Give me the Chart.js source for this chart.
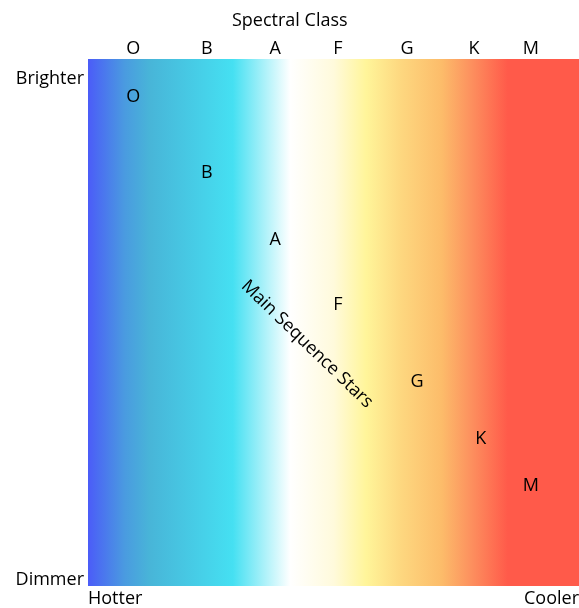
<!DOCTYPE html>
<html>
<head>
<meta charset="utf-8">
<script src="https://cdn.jsdelivr.net/npm/chart.js@4/dist/chart.umd.min.js"></script>
<style>
  html, body { margin: 0; padding: 0; background: #fff; overflow: hidden; }
  #wrap { width: 579px; height: 608px; }
</style>
</head>
<body>
<div id="wrap"><canvas id="hrCanvas"></canvas></div>
<script>
// Spectral classes along the top axis (hot -> cool)
const spectralClasses = ['O', 'B', 'A', 'F', 'G', 'K', 'M'];
const classTickX = [9.2, 24.2, 38.1, 50.9, 65.0, 78.6, 90.2];

// Main sequence stars (x = temperature index, y = brightness index)
const starX = [9.2, 24.2, 38.1, 50.9, 67.0, 80.0, 90.2];
const starY = [93.2, 78.7, 66.0, 53.7, 39.1, 28.3, 19.4];

// Side and bottom axis labels
const brightnessTicks = [96.2, 1.1];
const brightnessLabels = ['Brighter', 'Dimmer'];
const temperatureTicks = [0, 100];
const temperatureLabels = ['Hotter', 'Cooler'];

// Top axis title sits left of the plot centre, over the class "A"
const axisTitle = { text: 'Spectral Class', x: 41.1 };

// Label for the diagonal band
const sequenceLabel = { text: 'Main Sequence Stars', x: 44.6, y: 45.9, angle: 44 };

// Background colour stops (hot blue -> white -> cool red)
const bgStops = [
    [0.000, '#4b5cf8'],
    [0.075, '#4a9be0'],
    [0.126, '#48b5d8'],
    [0.295, '#45e0f2'],
    [0.412, '#ffffff'],
    [0.500, '#fffadc'],
    [0.566, '#fff59a'],
    [0.635, '#fdd880'],
    [0.720, '#fcbc6a'],
    [0.782, '#fd8f5e'],
    [0.855, '#ff5a4a'],
    [1.000, '#ff5a4a']
];

const FONT = "'Open Sans', 'Noto Sans', sans-serif";
const TEXT = '#000000';
const BASELINE_NUDGE = 2; // Open Sans sits a little high with 'middle'

// Paint the spectrum behind the chart area
const spectrumBackground = {
    id: 'spectrumBackground',
    beforeDraw(chart) {
        const { ctx, chartArea: a } = chart;
        const grad = ctx.createLinearGradient(a.left, 0, a.right, 0);
        bgStops.forEach(s => grad.addColorStop(s[0], s[1]));
        ctx.save();
        ctx.fillStyle = grad;
        ctx.fillRect(a.left, a.top, a.right - a.left, a.bottom - a.top);
        ctx.restore();
    }
};

// Draw the class letter at each star point, the rotated band label and the axis title
const starLabels = {
    id: 'starLabels',
    afterDatasetsDraw(chart) {
        const { ctx, scales } = chart;
        const meta = chart.getDatasetMeta(0);
        ctx.save();
        ctx.fillStyle = TEXT;
        ctx.font = '18px ' + FONT;
        ctx.textAlign = 'center';
        ctx.textBaseline = 'middle';
        meta.data.forEach((pt, i) => {
            ctx.fillText(spectralClasses[i], pt.x, pt.y + BASELINE_NUDGE);
        });
        ctx.fillText(axisTitle.text, scales.x.getPixelForValue(axisTitle.x), scales.x.top + 19 + BASELINE_NUDGE);
        const px = scales.x.getPixelForValue(sequenceLabel.x);
        const py = scales.y.getPixelForValue(sequenceLabel.y);
        ctx.translate(px, py);
        ctx.rotate(sequenceLabel.angle * Math.PI / 180);
        ctx.fillText(sequenceLabel.text, 0, 0);
        ctx.restore();
    }
};

// no label overflow padding, so the plot runs right to the canvas edge
function noPad(scale) {
    scale.paddingLeft = 0;
    scale.paddingRight = 0;
    scale.paddingTop = 0;
    scale.paddingBottom = 0;
}

const ctx = document.getElementById('hrCanvas').getContext('2d');
const hrChart = new Chart(ctx, {
    type: 'scatter',
    data: {
        datasets: [{
            label: 'Main Sequence',
            data: starX.map((x, i) => ({ x: x, y: starY[i] })),
            pointRadius: 0,
            pointHoverRadius: 0,
            showLine: false
        }]
    },
    options: {
        responsive: true,
        maintainAspectRatio: false,
        animation: false,
        events: [],
        layout: { padding: 0 },
        plugins: {
            legend: { display: false },
            tooltip: { enabled: false }
        },
        scales: {
            x: {
                type: 'linear',
                position: 'top',
                min: 0,
                max: 100,
                grid: { display: false, drawTicks: false },
                border: { display: false },
                afterBuildTicks: (scale) => {
                    scale.ticks = classTickX.map(v => ({ value: v }));
                },
                afterFit: (scale) => { scale.height = 59; noPad(scale); },
                ticks: {
                    autoSkip: false,
                    maxRotation: 0,
                    padding: -1,
                    color: TEXT,
                    font: { family: FONT, size: 18 },
                    callback: (value, index) => spectralClasses[index]
                }
            },
            x2: {
                type: 'linear',
                position: 'bottom',
                min: 0,
                max: 100,
                grid: { display: false, drawTicks: false },
                border: { display: false },
                afterBuildTicks: (scale) => {
                    scale.ticks = temperatureTicks.map(v => ({ value: v }));
                },
                afterFit: (scale) => { scale.height = 22; noPad(scale); },
                ticks: {
                    autoSkip: false,
                    maxRotation: 0,
                    align: 'inner',
                    padding: 2,
                    color: TEXT,
                    font: { family: FONT, size: 18 },
                    callback: (value, index) => temperatureLabels[index]
                }
            },
            y: {
                type: 'linear',
                position: 'left',
                min: 0,
                max: 100,
                grid: { display: false, drawTicks: false },
                border: { display: false },
                afterBuildTicks: (scale) => {
                    scale.ticks = brightnessTicks.map(v => ({ value: v }));
                },
                afterFit: (scale) => { scale.width = 88; noPad(scale); },
                ticks: {
                    autoSkip: false,
                    padding: 4,
                    color: TEXT,
                    font: { family: FONT, size: 18 },
                    callback: (value, index) => brightnessLabels[index]
                }
            }
        }
    },
    plugins: [spectrumBackground, starLabels]
});
</script>
</body>
</html>
